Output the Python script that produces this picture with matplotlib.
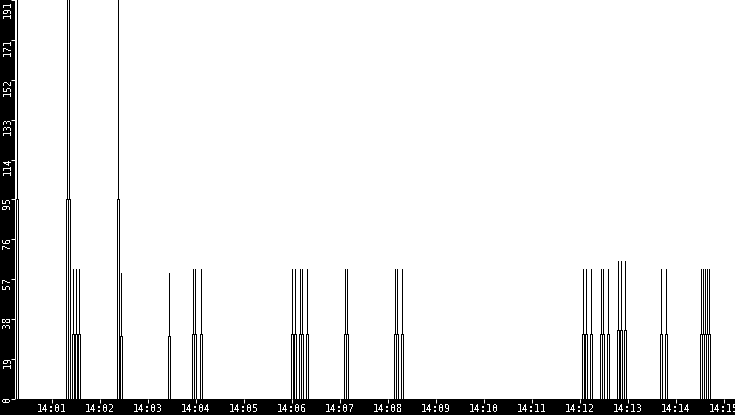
import matplotlib
matplotlib.use("Agg")
import matplotlib.pyplot as plt
import matplotlib.transforms as mtransforms

plt.rcParams["font.family"] = ["DejaVu Sans Mono"]
plt.rcParams["text.antialiased"] = False

# pics mesurés (secondes après 14:00:00), valeur du pic, valeur du palier
spike_sec = [16.5, 77.8, 80.3, 85.3, 89.7, 94.0, 142.0, 145.7, 205.7,
             236.5, 239.0, 245.7, 359.9, 362.8, 369.4, 371.6, 377.8,
             426.5, 429.0, 489.0, 491.5, 497.4, 724.0, 727.4, 733.2,
             745.7, 748.4, 754.4, 766.9, 770.3, 776.2, 820.7, 827.2,
             870.7, 873.2, 875.7, 878.7, 881.5]
spike_peak = [191, 191, 191, 62, 62, 62, 191, 60, 60,
              62, 62, 62, 62, 62, 62, 62, 62,
              62, 62, 62, 62, 62, 62, 62, 62,
              62, 62, 62, 66, 66, 66, 62, 62,
              62, 62, 62, 62, 62]
spike_base = [95.5, 95.5, 95.5, 31, 31, 31, 95.5, 30, 30,
              31, 31, 31, 31, 31, 31, 31, 31,
              31, 31, 31, 31, 31, 31, 31, 31,
              31, 31, 31, 33, 33, 33, 31, 31,
              31, 31, 31, 31, 31]

x_ticks = [60, 120, 180, 240, 300, 360, 420, 480, 540, 600, 660, 720, 780, 840, 900]
x_labels = ["14:01", "14:02", "14:03", "14:04", "14:05", "14:06", "14:07", "14:08",
            "14:09", "14:10", "14:11", "14:12", "14:13", "14:14", "14:15"]
y_ticks = [0, 19.1, 38.2, 57.3, 76.4, 95.5, 114.6, 133.7, 152.8, 171.9, 191]
y_labels = ["0", "19", "38", "57", "76", "95", "114", "133", "152", "171", "191"]

t_start, t_end = 13.4, 913.4

# contour en escalier de chaque pic (le pic lui-même = un trait vertical)
half_base = 1.25
xs, ys = [t_start], [0]
for t, p, b in zip(spike_sec, spike_peak, spike_base):
    xs += [t - half_base, t - half_base, t, t, t, t + half_base, t + half_base]
    ys += [0, b, b, p, b, b, 0]
xs.append(t_end)
ys.append(0)

fig = plt.figure(figsize=(7.35, 4.15), dpi=100, facecolor="black")
ax = fig.add_axes([15 / 735, 16.5 / 415, 720 / 735, 398 / 415])
ax.set_facecolor("white")
ax.plot(xs, ys, color="black", lw=0.6, antialiased=False, solid_joinstyle="miter")

ax.set_xlim(t_start, t_end)
ax.set_ylim(0, 191)
for s in ax.spines.values():
    s.set_visible(False)

ax.set_xticks(x_ticks)
ax.set_xticklabels(x_labels)
ax.tick_params(axis="x", colors="white", length=2.6, width=0.72, pad=1.2, labelsize=7.2)
ax.set_yticks(y_ticks)
ax.tick_params(axis="y", colors="white", length=2.9, width=0.72, labelleft=False)

base_trans = mtransforms.blended_transform_factory(fig.transFigure, ax.transData)
for v, lab in zip(y_ticks, y_labels):
    shift = 0.5 if v == y_ticks[-1] else 2.5
    trans = base_trans + mtransforms.ScaledTranslation(0, shift / 100, fig.dpi_scale_trans)
    ax.text(12.3 / 735, v, lab, transform=trans, rotation=90, color="white",
            fontsize=7.2, ha="right", va="top", clip_on=False)

fig.savefig("out.png", dpi=100, facecolor="black")
